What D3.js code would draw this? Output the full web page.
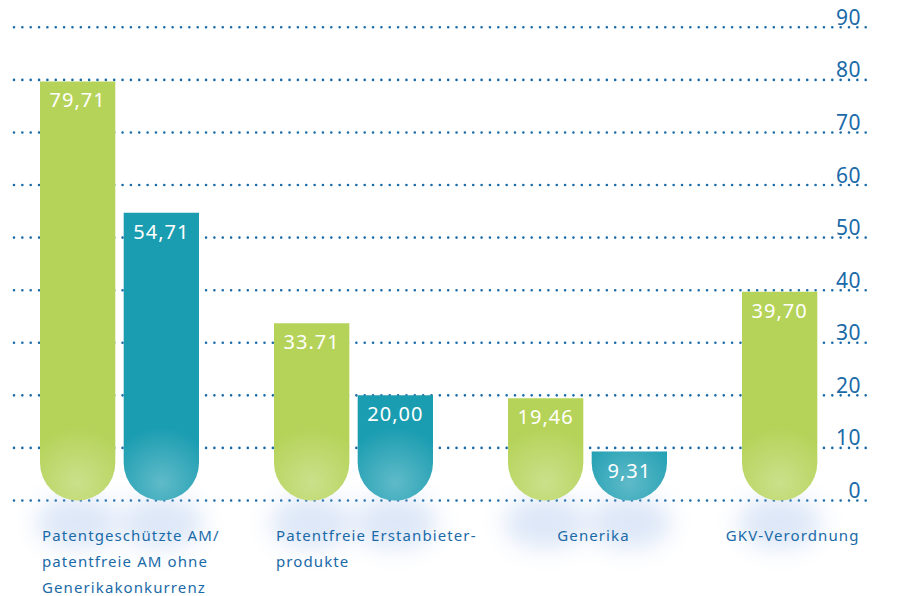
<!DOCTYPE html>
<html>
<head>
<meta charset="utf-8">
<script src="https://cdn.jsdelivr.net/npm/d3@7"></script>
<style>
  body { margin: 0; background: #fff; }
  text { font-family: "Noto Sans", sans-serif; }
</style>
</head>
<body>
<div id="chart"></div>
<script>
// Data
var categories = [
  ["Patentgeschützte AM/", "patentfreie AM ohne", "Generikakonkurrenz"],
  ["Patentfreie Erstanbieter-", "produkte"],
  ["Generika"],
  ["GKV-Verordnung"]
];
var greenValues = [79.71, 33.71, 19.46, 39.70];
var tealValues = [54.71, 20.00, 9.31, null];
var greenLabels = ["79,71", "33.71", "19,46", "39,70"];
var tealLabels = ["54,71", "20,00", "9,31", null];
var yTicks = [0, 10, 20, 30, 40, 50, 60, 70, 80, 90];

var svgWidth = 923;
var svgHeight = 596;

var green = "#b5d359";
var teal = "#1b9db1";
var blue = "#1a6aa8";

var svg = d3.select("#chart")
  .append("svg")
  .attr("width", svgWidth)
  .attr("height", svgHeight);

var defs = svg.append("defs");

// soft glow under the bars
defs.append("filter")
  .attr("id", "blur")
  .attr("x", "-50%").attr("y", "-50%")
  .attr("width", "200%").attr("height", "200%")
  .append("feGaussianBlur")
  .attr("stdDeviation", 12);

// Scales
var yScale = d3.scaleLinear()
  .domain([0, 90])
  .range([500.5, 27.3]);

var x0 = d3.scaleBand()
  .domain(d3.range(categories.length))
  .range([40, 40 + 234 * categories.length]);

var x1 = d3.scaleBand()
  .domain(["green", "teal"])
  .range([0, 159])
  .paddingInner(0.1);

// Grid lines
var grid = svg.append("g");
grid.selectAll("line")
  .data(yTicks)
  .enter()
  .append("line")
  .attr("x1", 14)
  .attr("x2", 867)
  .attr("y1", d => yScale(d))
  .attr("y2", d => yScale(d))
  .attr("stroke", blue)
  .attr("stroke-width", 2.6)
  .attr("stroke-linecap", "round")
  .attr("stroke-dasharray", "0 8.35");

// Right axis labels
var yAxis = d3.axisLeft(yScale)
  .tickValues(yTicks)
  .tickSize(0)
  .tickPadding(0);

var axisG = svg.append("g")
  .attr("transform", "translate(861,0)")
  .call(yAxis);
axisG.select(".domain").remove();
axisG.selectAll("text")
  .attr("fill", blue)
  .attr("font-size", 21)
  .attr("letter-spacing", 0.5)
  .attr("dy", "-3")
  .attr("font-family", "'Noto Sans', sans-serif");

// Build bar records
var bars = [];
categories.forEach(function(c, i) {
  bars.push({ i: i, key: "green", value: greenValues[i], label: greenLabels[i], color: green });
  if (tealValues[i] != null) {
    bars.push({ i: i, key: "teal", value: tealValues[i], label: tealLabels[i], color: teal });
  }
});
bars.forEach(function(d, n) { d.id = "shine" + n; });

function barLeft(d) { return x0(d.i) + x1(d.key); }

function barPath(d) {
  var xl = barLeft(d);
  var w = x1.bandwidth();
  var r = w / 2;
  var top = yScale(d.value);
  var base = yScale(0);
  return "M" + xl + "," + top +
    "H" + (xl + w) +
    "V" + (base - r) +
    "A" + r + "," + r + " 0 0 1 " + xl + "," + (base - r) +
    "Z";
}

// lighter spot near the round bottom, one per bar
bars.forEach(function(d) {
  var g = defs.append("radialGradient")
    .attr("id", d.id)
    .attr("gradientUnits", "userSpaceOnUse")
    .attr("cx", barLeft(d) + x1.bandwidth() / 2)
    .attr("cy", yScale(0) - 18)
    .attr("r", 55);
  g.append("stop").attr("offset", "0%").attr("stop-color", "#fff").attr("stop-opacity", 0.3);
  g.append("stop").attr("offset", "100%").attr("stop-color", "#fff").attr("stop-opacity", 0);
});

// Glow below bars
svg.append("g")
  .selectAll("ellipse")
  .data(bars)
  .enter()
  .append("ellipse")
  .attr("cx", d => barLeft(d) + x1.bandwidth() / 2)
  .attr("cy", yScale(0) + 22)
  .attr("rx", x1.bandwidth() / 2 + 4)
  .attr("ry", 26)
  .attr("fill", "#a9c3ec")
  .attr("opacity", 0.4)
  .attr("filter", "url(#blur)");

var barG = svg.append("g");
barG.selectAll("path.bar")
  .data(bars)
  .enter()
  .append("path")
  .attr("class", "bar")
  .attr("d", barPath)
  .attr("fill", d => d.color);

barG.selectAll("path.shine")
  .data(bars)
  .enter()
  .append("path")
  .attr("class", "shine")
  .attr("d", barPath)
  .attr("fill", d => "url(#" + d.id + ")");

// Value labels
barG.selectAll("text")
  .data(bars)
  .enter()
  .append("text")
  .attr("x", d => barLeft(d) + x1.bandwidth() / 2)
  .attr("y", d => yScale(d.value) + 26)
  .attr("text-anchor", "middle")
  .attr("fill", "#fff")
  .attr("font-size", 20)
  .attr("letter-spacing", 1)
  .text(d => d.label);

// Category labels
var catG = svg.append("g");
categories.forEach(function(lines, i) {
  var single = lines.length === 1;
  var hasTeal = tealValues[i] != null;
  var center = x0(i) + (hasTeal ? 159 : x1.bandwidth()) / 2 + 8;
  var t = catG.append("text")
    .attr("fill", blue)
    .attr("font-size", 15)
    .attr("letter-spacing", 1.1)
    .attr("text-anchor", single ? "middle" : "start");
  lines.forEach(function(line, k) {
    t.append("tspan")
      .attr("x", single ? center + (hasTeal ? -2 : 5) : x0(i) + 2)
      .attr("y", 541 + k * 26)
      .text(line);
  });
});
</script>
</body>
</html>
